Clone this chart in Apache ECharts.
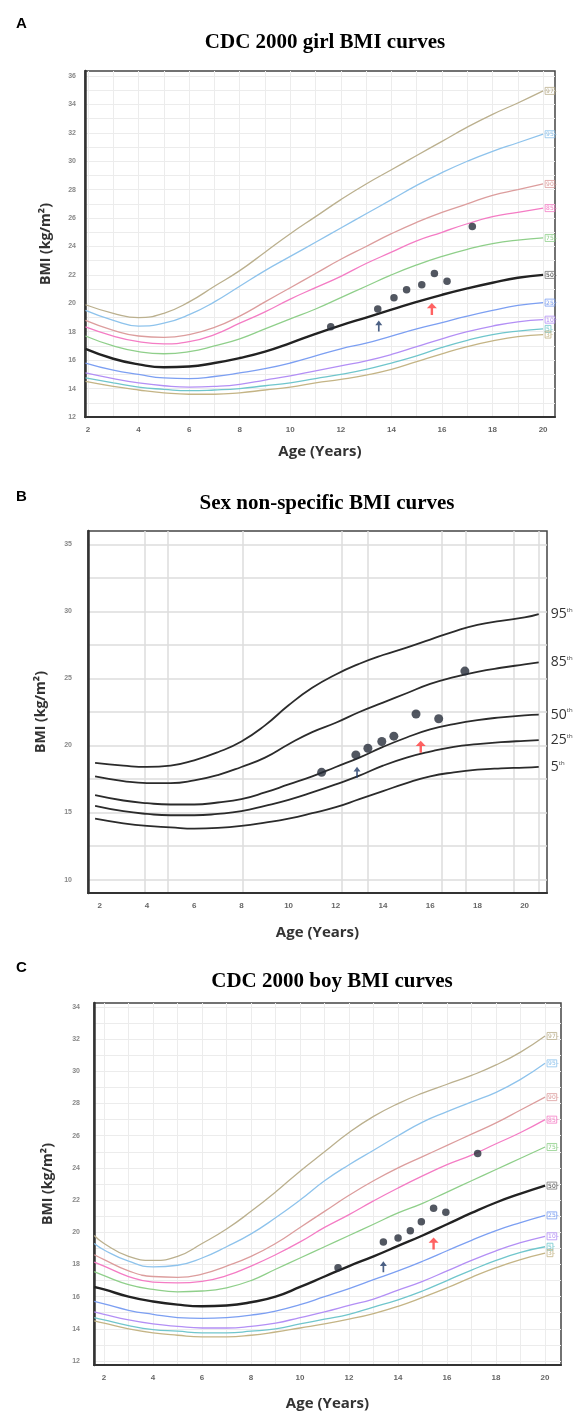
<!DOCTYPE html>
<html>
<head>
<meta charset="utf-8">
<script src="https://cdn.jsdelivr.net/npm/echarts@6/dist/echarts.min.js"></script>
<style>
  html, body { margin: 0; padding: 0; background: #fff; }
  #main { width: 578px; height: 1413px; }
</style>
</head>
<body>
<div id="main"></div>
<script>
// ---------------- data ----------------
// percentile names (A and C)
var pctNames = ['97', '95', '90', '85', '75', '50', '25', '10', '5', '3'];
var pctColors = ['#bbb08e', '#8ec3ec', '#dc9d9d', '#f47cc4', '#8fcf8a', '#222222', '#7c9ff2', '#b38ff5', '#70c6cc', '#c4b485'];

// A: CDC 2000 girl
var agesA = [1.9, 3, 4, 5, 6, 7, 8, 9, 10, 11, 12, 13, 14, 15, 16, 17, 18, 19, 20];
var girl97 = [19.9, 19.3, 19.0, 19.3, 20.1, 21.2, 22.3, 23.6, 24.9, 26.1, 27.3, 28.4, 29.4, 30.4, 31.4, 32.4, 33.3, 34.1, 34.95];
var girl95 = [19.5, 18.8, 18.4, 18.6, 19.2, 20.1, 21.2, 22.3, 23.3, 24.3, 25.3, 26.3, 27.3, 28.3, 29.2, 30.0, 30.7, 31.3, 31.9];
var girl90 = [18.8, 18.1, 17.7, 17.6, 17.8, 18.3, 19.1, 20.1, 21.1, 22.1, 23.1, 24.0, 24.9, 25.7, 26.4, 27.0, 27.6, 28.0, 28.4];
var girl85 = [18.35, 17.7, 17.3, 17.15, 17.3, 17.8, 18.6, 19.4, 20.3, 21.1, 21.9, 22.8, 23.6, 24.4, 25.0, 25.6, 26.1, 26.4, 26.7];
var girl75 = [17.7, 17.0, 16.6, 16.45, 16.6, 17.0, 17.5, 18.2, 18.9, 19.6, 20.4, 21.2, 22.0, 22.7, 23.3, 23.8, 24.2, 24.45, 24.6];
var girl50 = [16.8, 16.1, 15.7, 15.5, 15.55, 15.8, 16.15, 16.6, 17.2, 17.85, 18.45, 19.0, 19.55, 20.1, 20.6, 21.05, 21.45, 21.8, 22.0];
var girl25 = [15.8, 15.3, 15.0, 14.75, 14.7, 14.85, 15.1, 15.4, 15.8, 16.3, 16.8, 17.2, 17.7, 18.2, 18.65, 19.1, 19.5, 19.85, 20.05];
var girl10 = [15.1, 14.7, 14.4, 14.2, 14.1, 14.15, 14.3, 14.6, 14.9, 15.25, 15.6, 15.95, 16.4, 16.95, 17.5, 18.0, 18.4, 18.7, 18.85];
var girl5 = [14.75, 14.4, 14.1, 13.95, 13.85, 13.9, 14.0, 14.2, 14.4, 14.7, 15.0, 15.35, 15.8, 16.3, 16.9, 17.4, 17.8, 18.05, 18.2];
var girl3 = [14.5, 14.15, 13.9, 13.7, 13.6, 13.6, 13.7, 13.9, 14.1, 14.4, 14.65, 14.95, 15.35, 15.9, 16.45, 16.95, 17.35, 17.65, 17.8];
var patientAgeA = [11.6, 13.46, 14.1, 14.6, 15.2, 15.7, 16.2, 17.2];
var patientBmiA = [18.35, 19.6, 20.4, 20.95, 21.3, 22.1, 21.55, 25.4];
var blueArrowA = [13.5, 18.4];
var redArrowA = [15.6, 19.6];

// B: sex non-specific
var agesB = [1.8, 3, 4, 5, 6, 7, 8, 9, 10, 11, 12, 13, 14, 15, 16, 17, 18, 19, 20, 20.6];
var mixNames = ['95', '85', '50', '25', '5'];
var mix95 = [18.7, 18.5, 18.4, 18.5, 18.9, 19.5, 20.3, 21.5, 23.0, 24.3, 25.3, 26.1, 26.75, 27.3, 27.9, 28.5, 29.0, 29.3, 29.55, 29.8];
var mix85 = [17.7, 17.35, 17.2, 17.2, 17.4, 17.8, 18.4, 19.1, 20.1, 21.0, 21.7, 22.5, 23.2, 23.9, 24.6, 25.1, 25.5, 25.8, 26.05, 26.2];
var mix50 = [16.3, 15.9, 15.7, 15.6, 15.6, 15.75, 16.0, 16.5, 17.1, 17.7, 18.4, 19.1, 19.9, 20.6, 21.2, 21.6, 21.9, 22.1, 22.25, 22.3];
var mix25 = [15.5, 15.1, 14.9, 14.8, 14.8, 14.9, 15.1, 15.5, 15.95, 16.5, 17.1, 17.75, 18.5, 19.1, 19.55, 19.9, 20.1, 20.25, 20.35, 20.4];
var mix5 = [14.55, 14.2, 14.0, 13.9, 13.8, 13.85, 14.0, 14.25, 14.55, 14.95, 15.4, 16.0, 16.6, 17.2, 17.7, 18.0, 18.2, 18.3, 18.35, 18.4];
var patientAgeB = [11.4, 12.85, 13.36, 13.95, 14.46, 15.4, 16.36, 17.47];
var patientBmiB = [18.0, 19.3, 19.8, 20.3, 20.7, 22.35, 22.0, 25.55];
var blueArrowB = [12.9, 18.0];
var redArrowB = [15.6, 19.9];

// C: CDC 2000 boy
var agesC = [1.6, 2, 3, 4, 5, 6, 7, 8, 9, 10, 11, 12, 13, 14, 15, 16, 17, 18, 19, 20];
var boy97 = [19.8, 19.3, 18.5, 18.25, 18.5, 19.3, 20.2, 21.3, 22.5, 23.8, 25.0, 26.2, 27.2, 28.0, 28.65, 29.2, 29.75, 30.4, 31.2, 32.2];
var boy95 = [19.3, 18.9, 18.2, 17.85, 17.95, 18.4, 19.1, 19.9, 20.9, 22.0, 23.2, 24.2, 25.1, 26.0, 26.85, 27.5, 28.1, 28.7, 29.5, 30.5];
var boy90 = [18.6, 18.3, 17.6, 17.25, 17.2, 17.4, 17.9, 18.5, 19.3, 20.3, 21.3, 22.3, 23.2, 24.0, 24.7, 25.4, 26.1, 26.8, 27.6, 28.4];
var boy85 = [18.15, 17.9, 17.25, 16.9, 16.85, 16.95, 17.3, 17.9, 18.6, 19.4, 20.3, 21.1, 21.95, 22.75, 23.5, 24.2, 24.8, 25.5, 26.2, 27.0];
var boy75 = [17.55, 17.3, 16.75, 16.45, 16.3, 16.35, 16.55, 17.0, 17.7, 18.4, 19.1, 19.8, 20.5, 21.2, 21.8, 22.5, 23.2, 23.9, 24.6, 25.3];
var boy50 = [16.6, 16.45, 16.0, 15.7, 15.5, 15.4, 15.45, 15.65, 16.0, 16.6, 17.25, 17.9, 18.5, 19.15, 19.8, 20.5, 21.2, 21.85, 22.4, 22.9];
var boy25 = [15.7, 15.55, 15.15, 14.9, 14.7, 14.65, 14.7, 14.85, 15.1, 15.5, 16.0, 16.5, 17.05, 17.6, 18.2, 18.85, 19.5, 20.1, 20.6, 21.05];
var boy10 = [15.05, 14.9, 14.55, 14.3, 14.15, 14.05, 14.05, 14.15, 14.35, 14.7, 15.05, 15.45, 15.85, 16.4, 16.95, 17.6, 18.25, 18.85, 19.35, 19.75];
var boy5 = [14.7, 14.55, 14.2, 13.95, 13.85, 13.75, 13.75, 13.85, 14.0, 14.3, 14.6, 14.9, 15.35, 15.8, 16.35, 17.0, 17.65, 18.25, 18.75, 19.1];
var boy3 = [14.5, 14.35, 14.0, 13.75, 13.6, 13.5, 13.5, 13.6, 13.8, 14.05, 14.3, 14.6, 14.95, 15.4, 15.95, 16.55, 17.2, 17.8, 18.3, 18.7];
var patientAgeC = [11.55, 13.4, 14.0, 14.5, 14.95, 15.45, 15.95, 17.25];
var patientBmiC = [17.8, 19.4, 19.65, 20.1, 20.65, 21.5, 21.25, 24.9];
var blueArrowC = [13.4, 17.85];
var redArrowC = [15.45, 19.3];

// tick labels
var ageLabels = [2, 4, 6, 8, 10, 12, 14, 16, 18, 20];
var ageGrid = [2, 3, 4, 5, 6, 7, 8, 9, 10, 11, 12, 13, 14, 15, 16, 17, 18, 19, 20];
var ageGridB = [3.9, 4.9, 8.05, 12.25, 13.35, 16.5, 17.5, 19.55, 20.6];
var bmiLabelsA = [12, 14, 16, 18, 20, 22, 24, 26, 28, 30, 32, 34, 36];
var bmiGridA = [12, 13, 14, 15, 16, 17, 18, 19, 20, 21, 22, 23, 24, 25, 26, 27, 28, 29, 30, 31, 32, 33, 34, 35, 36];
var bmiLabelsB = [10, 15, 20, 25, 30, 35];
var bmiGridB = [10, 12.5, 15, 17.5, 20, 22.5, 25, 27.5, 30, 32.5, 35];
var bmiLabelsC = [12, 14, 16, 18, 20, 22, 24, 26, 28, 30, 32, 34];
var bmiGridC = [12, 13, 14, 15, 16, 17, 18, 19, 20, 21, 22, 23, 24, 25, 26, 27, 28, 29, 30, 31, 32, 33, 34];

var arrowPath = 'path://M5,0 L10,6 L6.2,6 L6.2,14 L3.8,14 L3.8,6 L0,6 Z';

// ---------------- helpers ----------------
function pairs(xs, ys) {
    var out = [];
    for (var i = 0; i < xs.length; i++) out.push([xs[i], ys[i]]);
    return out;
}

function pctLine(idx, name, color, ages, vals) {
    var isMed = name === '50';
    return {
        name: name, type: 'line', xAxisIndex: idx, yAxisIndex: idx,
        data: pairs(ages, vals), smooth: 0.5, showSymbol: false, silent: true,
        lineStyle: { color: color, width: isMed ? 2.4 : 1.3 },
        endLabel: {
            show: true, distance: 2,
            formatter: '{b|' + name + '}{d|-}',
            rich: {
                b: { fontSize: 6, color: isMed ? '#444' : color, borderColor: isMed ? '#777' : color,
                     borderWidth: 0.8, padding: [1, 1, 0, 1], fontFamily: 'DejaVu Sans' },
                d: { fontSize: 6, color: isMed ? '#444' : color }
            }
        },
        z: isMed ? 4 : 3
    };
}

function mixLine(name, vals) {
    return {
        name: name, type: 'line', xAxisIndex: 1, yAxisIndex: 1,
        data: pairs(agesB, vals), smooth: 0.5, showSymbol: false, silent: true,
        lineStyle: { color: '#2b2b2b', width: 1.8 },
        endLabel: {
            show: true, distance: 12,
            formatter: '{n|' + name + '}{s|th}',
            rich: {
                n: { fontSize: 14, color: '#333', fontFamily: 'Open Sans' },
                s: { fontSize: 6, color: '#333', fontFamily: 'Open Sans', verticalAlign: 'top', padding: [0, 0, 8, 0] }
            }
        }
    };
}

function dots(idx, xs, ys, size) {
    return {
        type: 'scatter', xAxisIndex: idx, yAxisIndex: idx, data: pairs(xs, ys),
        symbolSize: size, itemStyle: { color: '#272d3a' }, z: 6
    };
}

function arrow(idx, pt, color, size) {
    return {
        type: 'scatter', xAxisIndex: idx, yAxisIndex: idx, data: [pt],
        symbol: arrowPath, symbolSize: size, itemStyle: { color: color }, z: 6
    };
}

function xAxisFor(idx, min, max, grid, gap) {
    return {
        type: 'value', gridIndex: idx, min: min, max: max,
        name: 'Age (Years)', nameLocation: 'middle', nameGap: gap,
        nameTextStyle: { fontSize: 15, fontWeight: 'bold', color: '#333', fontFamily: 'Open Sans' },
        axisLine: { show: true, onZero: false, lineStyle: { color: '#333', width: 2 } },
        axisTick: { show: false, customValues: grid },
        axisLabel: { customValues: ageLabels, fontSize: 8, fontWeight: 'bold', color: '#666', margin: 9 },
        splitLine: { show: true, lineStyle: { color: idx === 1 ? '#dcdcdc' : '#ececec', width: idx === 1 ? 1.5 : 1 } }
    };
}

function yAxisFor(idx, min, max, grid, labels, gap, margin) {
    return {
        type: 'value', gridIndex: idx, min: min, max: max,
        name: 'BMI (kg/m²)', nameLocation: 'middle', nameGap: gap,
        nameTextStyle: { fontSize: 14, fontWeight: 'bold', color: '#333', fontFamily: 'Open Sans' },
        axisLine: { show: true, onZero: false, lineStyle: { color: '#333', width: 2.5 } },
        axisTick: { show: false, customValues: grid },
        axisLabel: { customValues: labels, fontSize: 7, fontWeight: 'bold', color: '#888', margin: margin },
        splitLine: { show: true, lineStyle: { color: idx === 1 ? '#dcdcdc' : '#ececec', width: idx === 1 ? 1.5 : 1 } }
    };
}

// ---------------- chart ----------------
var dom = document.getElementById('main');
var myChart = echarts.init(dom, null, { renderer: 'canvas' });

var girlSets = [girl97, girl95, girl90, girl85, girl75, girl50, girl25, girl10, girl5, girl3];
var boySets = [boy97, boy95, boy90, boy85, boy75, boy50, boy25, boy10, boy5, boy3];
var mixSets = [mix95, mix85, mix50, mix25, mix5];

var series = [];
for (var i = 0; i < pctNames.length; i++) {
    series.push(pctLine(0, pctNames[i], pctColors[i], agesA, girlSets[i]));
    series.push(pctLine(2, pctNames[i], pctColors[i], agesC, boySets[i]));
}
for (var j = 0; j < mixNames.length; j++) {
    series.push(mixLine(mixNames[j], mixSets[j]));
}
series.push(dots(0, patientAgeA, patientBmiA, 7.5));
series.push(dots(1, patientAgeB, patientBmiB, 9));
series.push(dots(2, patientAgeC, patientBmiC, 7.5));
series.push(arrow(0, blueArrowA, '#1f3a66', [7, 11]));
series.push(arrow(0, redArrowA, '#ff3b3b', [10, 12]));
series.push(arrow(1, blueArrowB, '#1f3a66', [7, 11]));
series.push(arrow(1, redArrowB, '#ff3b3b', [10, 12]));
series.push(arrow(2, blueArrowC, '#1f3a66', [7, 11]));
series.push(arrow(2, redArrowC, '#ff3b3b', [10, 12]));

var titleFont = { fontSize: 21, fontWeight: 'bold', color: '#000', fontFamily: 'Liberation Serif' };
var letterFont = { fontSize: 15, fontWeight: 'bold', color: '#000', fontFamily: 'Liberation Sans' };

var option = {
    animation: false,
    backgroundColor: '#fff',
    title: [
        { text: 'A', left: 11, top: 11, textStyle: letterFont },
        { text: 'CDC 2000 girl BMI curves', left: 320, top: 27, textAlign: 'center', textStyle: titleFont },
        { text: 'B', left: 11, top: 484, textStyle: letterFont },
        { text: 'Sex non-specific BMI curves', left: 322, top: 488, textAlign: 'center', textStyle: titleFont },
        { text: 'C', left: 11, top: 955, textStyle: letterFont },
        { text: 'CDC 2000 boy BMI curves', left: 327, top: 966, textAlign: 'center', textStyle: titleFont }
    ],
    grid: [
        { left: 85, top: 71, width: 470, height: 346, show: true, borderColor: '#444', borderWidth: 1.5 },
        { left: 88, top: 531, width: 459, height: 362, show: true, borderColor: '#444', borderWidth: 1.5 },
        { left: 94, top: 1003, width: 467, height: 362, show: true, borderColor: '#444', borderWidth: 1.5 }
    ],
    xAxis: [
        xAxisFor(0, 1.88, 20.47, ageGrid, 27),
        xAxisFor(1, 1.5, 20.95, ageGridB, 32),
        xAxisFor(2, 1.59, 20.65, ageGrid, 31)
    ],
    yAxis: [
        yAxisFor(0, 12, 36.35, bmiGridA, bmiLabelsA, 32, 9),
        yAxisFor(1, 9, 36, bmiGridB, bmiLabelsB, 40, 16),
        yAxisFor(2, 11.75, 34.25, bmiGridC, bmiLabelsC, 39, 14)
    ],
    series: series
};

myChart.setOption(option, true);
</script>
</body>
</html>
